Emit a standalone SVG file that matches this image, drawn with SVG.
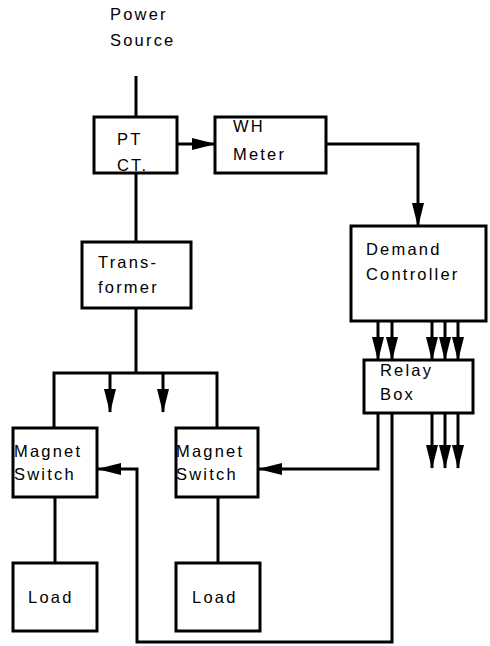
<svg xmlns="http://www.w3.org/2000/svg" width="490" height="646" viewBox="0 0 490 646">
<style>
.box{fill:#fff;stroke:#000;stroke-width:3}
.ln{fill:none;stroke:#000;stroke-width:3}
.ar{fill:none;stroke:#000;stroke-width:3;marker-end:url(#ah)}
text{font-family:"Liberation Sans",Arial,sans-serif;font-size:16.5px;letter-spacing:2.2px;fill:#000}
</style>
<defs>
<marker id="ah" markerUnits="userSpaceOnUse" markerWidth="24" markerHeight="12" refX="23" refY="6" orient="auto">
<path d="M0,0 L24,6 L0,12 z" fill="#000"/>
</marker>
</defs>
<rect width="490" height="646" fill="#fff"/>
<g id="source"><text x="110" y="20">Power</text><text x="110" y="46">Source</text></g>
<g id="connectors">
<path class="ln" d="M136,76 V117"/>
<path class="ar" d="M177,144 H215"/>
<path class="ar" d="M326,144 H418 V226"/>
<path class="ln" d="M136,173 V242"/>
<path class="ln" d="M136,308 V373 M54,428 V373 H217 V428"/>
<path class="ar" d="M110,373 V412"/>
<path class="ar" d="M163,373 V412"/>
<path class="ar" d="M378,321 V360"/>
<path class="ar" d="M392,321 V360"/>
<path class="ar" d="M432,321 V360"/>
<path class="ar" d="M445,321 V360"/>
<path class="ar" d="M458,321 V360"/>
<path class="ar" d="M432,413 V468"/>
<path class="ar" d="M445,413 V468"/>
<path class="ar" d="M458,413 V468"/>
<path class="ar" d="M378,413 V469 H259"/>
<path class="ar" d="M392,413 V642 H137 V469 H98"/>
<path class="ln" d="M55,497 V563"/>
<path class="ln" d="M218,497 V563"/>
</g>
<g id="ptct"><rect class="box" x="94" y="117" width="83" height="56"/><text x="117" y="145">PT</text><text x="117" y="171">CT.</text></g>
<g id="whmeter"><text x="233" y="132">WH</text><rect class="box" x="215" y="117" width="111" height="56" fill-opacity="0"/><text x="233" y="160">Meter</text></g>
<g id="transformer"><rect class="box" x="82" y="242" width="109" height="66"/><text x="98" y="268">Trans-</text><text x="98" y="293">former</text></g>
<g id="demand"><rect class="box" x="351" y="226" width="135" height="95"/><text x="366" y="255">Demand</text><text x="366" y="280">Controller</text></g>
<g id="relay"><rect class="box" x="364" y="360" width="109" height="53"/><text x="380" y="376">Relay</text><text x="380" y="400">Box</text></g>
<g id="ms1"><rect class="box" x="13" y="428" width="84" height="69"/><text x="14" y="457">Magnet</text><text x="14" y="480">Switch</text></g>
<g id="ms2"><rect class="box" x="176" y="428" width="82" height="69"/><text x="176" y="457">Magnet</text><text x="176" y="480">Switch</text></g>
<g id="load1"><rect class="box" x="13" y="563" width="84" height="68"/><text x="28" y="603">Load</text></g>
<g id="load2"><rect class="box" x="176" y="563" width="84" height="68"/><text x="192" y="603">Load</text></g>
</svg>
